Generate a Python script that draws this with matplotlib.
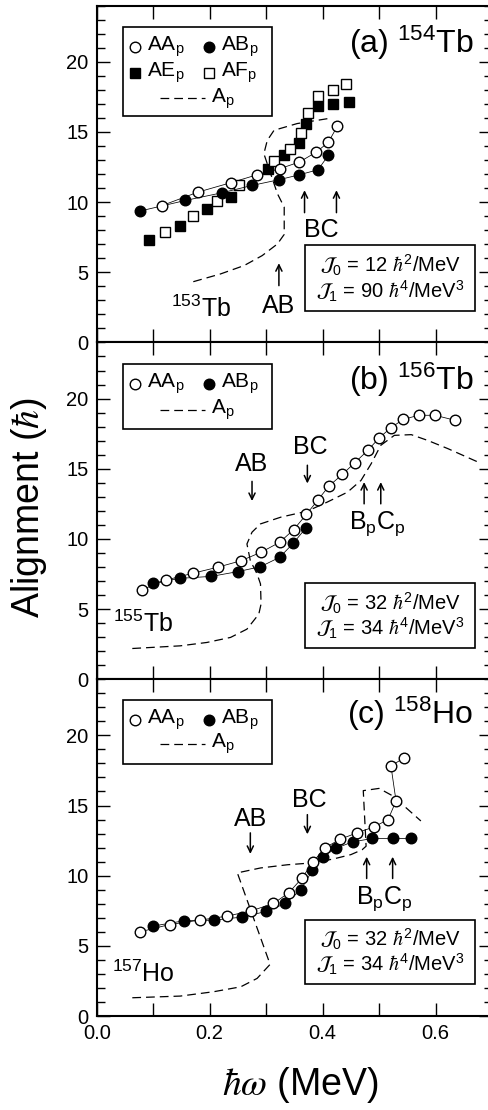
import matplotlib
matplotlib.use("Agg")
import matplotlib.pyplot as plt
from matplotlib.ticker import MultipleLocator
from matplotlib.patches import Rectangle

plt.rcParams["font.family"] = ["Liberation Sans", "DejaVu Sans"]
plt.rcParams["mathtext.fontset"] = "custom"
plt.rcParams["mathtext.rm"] = "Liberation Sans"
plt.rcParams["mathtext.it"] = "Liberation Sans:italic"
plt.rcParams["mathtext.default"] = "regular"

OUT_PATH = "out.png"

# (a) 154Tb
a_AA_x = [0.116, 0.179, 0.237, 0.284, 0.324, 0.359, 0.389, 0.410, 0.426]
a_AA_y = [9.76, 10.71, 11.38, 11.95, 12.38, 12.86, 13.57, 14.26, 15.40]
a_AB_x = [0.076, 0.157, 0.222, 0.275, 0.323, 0.359, 0.392, 0.410]
a_AB_y = [9.36, 10.12, 10.67, 11.19, 11.60, 11.95, 12.31, 13.33]
a_AE_x = [0.092, 0.147, 0.195, 0.238, 0.303, 0.332, 0.358, 0.371, 0.391, 0.419, 0.447]
a_AE_y = [7.31, 8.31, 9.48, 10.40, 12.38, 13.33, 14.21, 15.60, 16.83, 17.02, 17.12]
a_AF_x = [0.121, 0.170, 0.213, 0.252, 0.314, 0.342, 0.361, 0.374, 0.391, 0.419, 0.442]
a_AF_y = [7.86, 8.98, 10.05, 11.19, 12.93, 13.81, 14.93, 16.36, 17.55, 17.98, 18.45]
a_Ap_x = [0.171, 0.219, 0.261, 0.293, 0.320, 0.332, 0.332, 0.320, 0.308, 0.296, 0.302, 0.314,
          0.355, 0.409]
a_Ap_y = [4.33, 4.88, 5.48, 6.19, 7.02, 7.70, 9.64, 10.60, 12.02, 13.45, 14.40, 15.12,
          15.60, 15.95]

# (b) 156Tb
b_AA_x = [0.080, 0.123, 0.170, 0.214, 0.256, 0.291, 0.324, 0.349, 0.371, 0.391, 0.411,
          0.435, 0.457, 0.480, 0.500, 0.521, 0.543, 0.570, 0.599, 0.635]
b_AA_y = [6.38, 7.07, 7.55, 7.98, 8.45, 9.05, 9.76, 10.67, 11.74, 12.74, 13.76,
          14.60, 15.43, 16.31, 17.19, 17.93, 18.52, 18.81, 18.81, 18.45]
b_AB_x = [0.099, 0.148, 0.203, 0.250, 0.290, 0.324, 0.348, 0.370]
b_AB_y = [6.86, 7.19, 7.33, 7.67, 8.02, 8.69, 9.69, 10.76]
b_Ap_x = [0.063, 0.148, 0.195, 0.237, 0.266, 0.287, 0.291, 0.290, 0.284, 0.272, 0.266,
          0.275, 0.290, 0.326, 0.373, 0.408, 0.444, 0.468, 0.486, 0.503, 0.527, 0.557,
          0.586, 0.622, 0.675]
b_Ap_y = [2.19, 2.38, 2.62, 2.98, 3.57, 4.64, 5.36, 6.79, 7.50, 8.45, 9.64,
          10.48, 11.07, 11.55, 11.98, 12.62, 13.33, 14.17, 15.36, 16.67, 17.38, 17.43,
          17.02, 16.43, 15.48]

# (c) 158Ho
c_AA_x = [0.077, 0.129, 0.182, 0.231, 0.274, 0.313, 0.340, 0.363, 0.383, 0.404, 0.431,
          0.461, 0.491, 0.516, 0.530, 0.521, 0.544]
c_AA_y = [6.00, 6.52, 6.83, 7.12, 7.50, 8.02, 8.78, 9.80, 10.98, 11.98, 12.60,
          13.05, 13.48, 14.00, 15.33, 17.82, 18.39]
c_AB_x = [0.100, 0.155, 0.208, 0.257, 0.300, 0.334, 0.361, 0.382, 0.400, 0.423, 0.453,
          0.488, 0.524, 0.556]
c_AB_y = [6.41, 6.79, 6.83, 7.05, 7.45, 8.02, 8.97, 10.39, 11.34, 11.94, 12.41,
          12.65, 12.65, 12.65]
c_Ap_x = [0.063, 0.148, 0.207, 0.255, 0.284, 0.307, 0.249, 0.290, 0.338, 0.385, 0.420,
          0.450, 0.470, 0.477, 0.472, 0.500, 0.524, 0.574]
c_Ap_y = [1.30, 1.42, 1.73, 2.08, 2.68, 3.68, 10.20, 10.55, 10.78, 10.92, 11.20,
          11.50, 11.85, 12.10, 16.06, 16.22, 15.69, 13.90]

OPEN_C = dict(marker="o", ms=7.6, mfc="white", mec="black", mew=1.0)
FILL_C = dict(marker="o", ms=7.6, mfc="black", mec="black", mew=1.0)
OPEN_S = dict(marker="s", ms=6.6, mfc="white", mec="black", mew=1.0)
FILL_S = dict(marker="s", ms=6.6, mfc="black", mec="black", mew=1.0)
DASH = dict(color="black", lw=0.9, dashes=(7, 4))


def series(ax, x, y, style, link=True, z=3):
    if link:
        ax.plot(x, y, color="black", lw=0.55, zorder=z - 0.5)
    ax.plot(x, y, ls="none", zorder=z, **style)


def key(ax, x, y, style, label):
    ax.plot([x], [y], ls="none", transform=ax.transAxes, clip_on=False, **style)
    ax.text(x + 0.031, y, label, transform=ax.transAxes, ha="left", va="center", fontsize=15)


def legend_box(ax, y_bot, rows):
    ax.add_patch(Rectangle((0.0675, y_bot), 0.3765, 0.9375 - y_bot, transform=ax.transAxes,
                           fill=False, lw=1.2, ec="black", zorder=5))
    for r in rows:
        if r[0] == "line":
            ax.plot([0.161, 0.275], [r[1], r[1]], transform=ax.transAxes, **DASH)
            ax.text(0.290, r[1], "A$_p$", transform=ax.transAxes, ha="left", va="center",
                    fontsize=15)
        else:
            key(ax, 0.097, r[1], r[0], r[2])
            key(ax, 0.283, r[1], r[3], r[4])


def inertia_box(ax, y_bot, y_top, j0, j1):
    ax.add_patch(Rectangle((0.527, y_bot), 0.430, y_top - y_bot, transform=ax.transAxes,
                           fill=False, lw=1.2, ec="black", zorder=5))
    h = y_top - y_bot
    ax.text(0.742, y_bot + 0.69 * h, r"$\mathcal{J}_0$ = %d $\mathit{\hbar}^2$/MeV" % j0,
            transform=ax.transAxes, ha="center", va="center", fontsize=14.5,
            math_fontfamily="stixsans")
    ax.text(0.742, y_bot + 0.30 * h, r"$\mathcal{J}_1$ = %d $\mathit{\hbar}^4$/MeV$^3$" % j1,
            transform=ax.transAxes, ha="center", va="center", fontsize=14.5,
            math_fontfamily="stixsans")


def arrow(ax, x, y0, y1):
    ax.annotate("", xy=(x, y1), xytext=(x, y0),
                arrowprops=dict(arrowstyle="->,head_length=0.45,head_width=0.22",
                                lw=1.1, color="black", shrinkA=0, shrinkB=0))


def setup(ax, bottom_labels):
    ax.set_xlim(0, 0.7)
    ax.set_ylim(0, 24)
    ax.xaxis.set_major_locator(MultipleLocator(0.2))
    ax.xaxis.set_minor_locator(MultipleLocator(0.1))
    ax.yaxis.set_major_locator(MultipleLocator(5))
    ax.yaxis.set_minor_locator(MultipleLocator(1))
    ax.tick_params(which="both", direction="in", top=True, right=True, width=1.0,
                   labelsize=14.5, pad=6)
    ax.tick_params(which="major", length=9.5)
    ax.tick_params(axis="y", which="minor", length=5.5)
    ax.tick_params(axis="x", which="minor", length=9.5)
    ax.tick_params(axis="x", labelbottom=bottom_labels)
    if bottom_labels:
        ax.xaxis.set_major_formatter(plt.FuncFormatter(lambda v, p: "%.1f" % v))
    for s in ax.spines.values():
        s.set_linewidth(1.5)


def main():
    fig = plt.figure(figsize=(4.89, 11.10), dpi=100)
    h = 0.3034
    left, width = 0.1978, 0.8084
    ax_a = fig.add_axes([left, 0.08468 + 2 * h, width, h])
    ax_b = fig.add_axes([left, 0.08468 + h, width, h])
    ax_c = fig.add_axes([left, 0.08468, width, h])

    # panel (a)
    setup(ax_a, False)
    ax_a.plot(a_Ap_x, a_Ap_y, **DASH)
    series(ax_a, a_AE_x, a_AE_y, FILL_S, link=False, z=3)
    series(ax_a, a_AF_x, a_AF_y, OPEN_S, link=False, z=3.2)
    series(ax_a, a_AB_x, a_AB_y, FILL_C, z=4)
    series(ax_a, a_AA_x, a_AA_y, OPEN_C, z=4.2)
    legend_box(ax_a, 0.672, [(OPEN_C, 0.878, "AA$_p$", FILL_C, "AB$_p$"),
                             (FILL_S, 0.801, "AE$_p$", OPEN_S, "AF$_p$"),
                             ("line", 0.725)])
    ax_a.text(0.953, 0.889, "(a) $^{154}$Tb", transform=ax_a.transAxes, ha="right",
              va="center", fontsize=23)
    inertia_box(ax_a, 0.094, 0.288, 12, 90)
    arrow(ax_a, 0.3226, 4.05, 5.65)
    ax_a.text(0.3226, 2.62, "AB", ha="center", va="center", fontsize=18)
    arrow(ax_a, 0.368, 9.25, 10.85)
    arrow(ax_a, 0.4245, 9.25, 10.85)
    ax_a.text(0.397, 7.98, "BC", ha="center", va="center", fontsize=18)
    ax_a.text(0.184, 2.38, "$^{153}$Tb", ha="center", va="center", fontsize=18)

    # panel (b)
    setup(ax_b, False)
    ax_b.plot(b_Ap_x, b_Ap_y, **DASH)
    series(ax_b, b_AB_x, b_AB_y, FILL_C, z=4)
    series(ax_b, b_AA_x, b_AA_y, OPEN_C, z=4.2)
    legend_box(ax_b, 0.744, [(OPEN_C, 0.878, "AA$_p$", FILL_C, "AB$_p$"),
                             ("line", 0.799)])
    ax_b.text(0.953, 0.89, "(b) $^{156}$Tb", transform=ax_b.transAxes, ha="right",
              va="center", fontsize=23)
    inertia_box(ax_b, 0.094, 0.2845, 32, 34)
    ax_b.text(0.275, 15.36, "AB", ha="center", va="center", fontsize=18)
    arrow(ax_b, 0.275, 14.1, 12.7)
    ax_b.text(0.379, 16.54, "BC", ha="center", va="center", fontsize=18)
    arrow(ax_b, 0.373, 15.25, 13.95)
    arrow(ax_b, 0.4735, 12.5, 14.05)
    arrow(ax_b, 0.503, 12.5, 14.05)
    ax_b.text(0.497, 11.07, "B$_p$C$_p$", ha="center", va="center", fontsize=18)
    ax_b.text(0.083, 3.93, "$^{155}$Tb", ha="center", va="center", fontsize=18)

    # panel (c)
    setup(ax_c, True)
    ax_c.plot(c_Ap_x, c_Ap_y, **DASH)
    series(ax_c, c_AB_x, c_AB_y, FILL_C, z=4)
    series(ax_c, c_AA_x, c_AA_y, OPEN_C, z=4.2)
    legend_box(ax_c, 0.747, [(OPEN_C, 0.879, "AA$_p$", FILL_C, "AB$_p$"),
                             ("line", 0.807)])
    ax_c.text(0.953, 0.896, "(c) $^{158}$Ho", transform=ax_c.transAxes, ha="right",
              va="center", fontsize=23)
    inertia_box(ax_c, 0.095, 0.286, 32, 34)
    ax_c.text(0.272, 14.07, "AB", ha="center", va="center", fontsize=18)
    arrow(ax_c, 0.272, 13.05, 11.55)
    ax_c.text(0.376, 15.37, "BC", ha="center", va="center", fontsize=18)
    arrow(ax_c, 0.373, 14.35, 12.95)
    arrow(ax_c, 0.478, 9.8, 11.35)
    arrow(ax_c, 0.524, 9.8, 11.35)
    ax_c.text(0.509, 8.38, "B$_p$C$_p$", ha="center", va="center", fontsize=18)
    ax_c.text(0.083, 3.04, "$^{157}$Ho", ha="center", va="center", fontsize=18)

    fig.text(0.0593, 0.5423, r"Alignment ($\mathit{\hbar}$)", rotation=90, ha="center",
             va="center", fontsize=27, math_fontfamily="stix")
    fig.text(0.6135, 0.0225, r"$\mathit{\hbar\omega}$ (MeV)", ha="center", va="center",
             fontsize=27, math_fontfamily="stix")

    fig.savefig(OUT_PATH, dpi=100)
    plt.close(fig)


if __name__ == "__main__":
    main()
